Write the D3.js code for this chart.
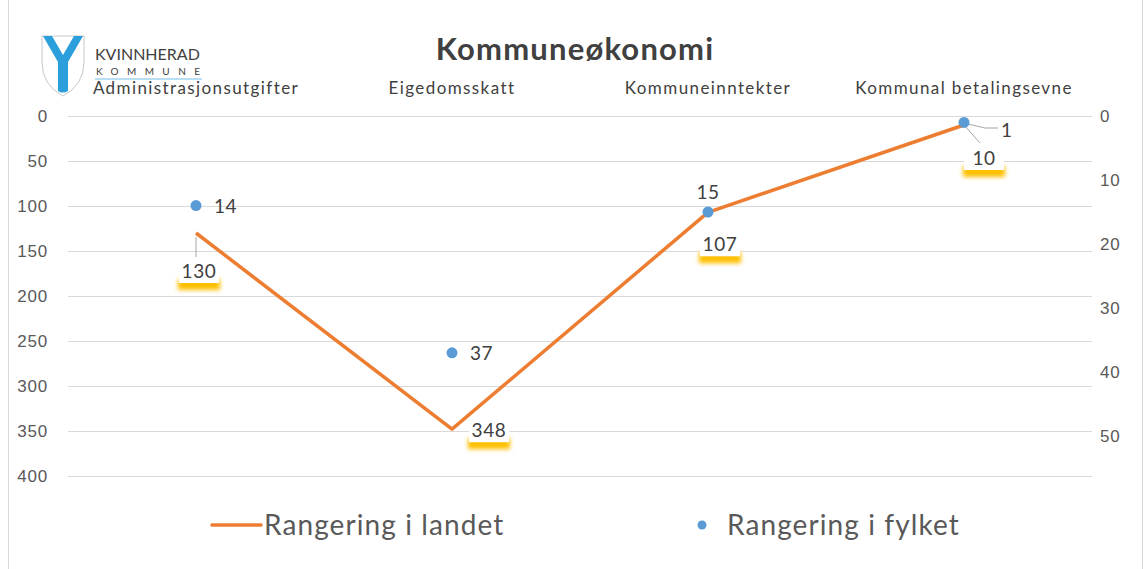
<!DOCTYPE html>
<html>
<head>
<meta charset="utf-8">
<script src="https://cdn.jsdelivr.net/npm/d3@7"></script>
<style>
  body { margin: 0; background: #fff; }
  svg { font-family: Lato, "Open Sans", sans-serif; }
</style>
</head>
<body>
<svg width="1144" height="569"></svg>
<script>
const categories = ["Administrasjonsutgifter", "Eigedomsskatt", "Kommuneinntekter", "Kommunal betalingsevne"];
const landet = [130, 348, 107, 10];
const fylket = [14, 37, 15, 1];
const leftTicks = [0, 50, 100, 150, 200, 250, 300, 350, 400];
const rightTicks = [0, 10, 20, 30, 40, 50];

const svg = d3.select("svg");
const plotTop = 116, plotBottom = 476;

// frame
svg.append("rect").attr("x", 8.5).attr("y", -1).attr("width", 1134).attr("height", 571)
  .attr("fill", "none").attr("stroke", "#d9d9d9");

const x = d3.scaleBand().domain(categories).range([68, 1092]);
const yL = d3.scaleLinear().domain([0, 400]).range([plotTop, plotBottom]);
const yR = d3.scaleLinear().domain([0, 56.25]).range([plotTop, plotBottom]);

// gridlines
svg.append("g").selectAll("line").data(leftTicks).join("line")
  .attr("x1", 68).attr("x2", 1092)
  .attr("y1", d => yL(d) + 0.5).attr("y2", d => yL(d) + 0.5)
  .attr("stroke", "#d9d9d9");

// axes
const axL = svg.append("g").attr("transform", "translate(68,0)")
  .call(d3.axisLeft(yL).tickValues(leftTicks).tickSize(0).tickPadding(20));
axL.select(".domain").remove();
axL.selectAll("text").attr("fill", "#595959").style("font-size", "17px").style("letter-spacing", "0.8px");

const axR = svg.append("g").attr("transform", "translate(1092,0)")
  .call(d3.axisRight(yR).tickValues(rightTicks).tickSize(0).tickPadding(8));
axR.select(".domain").remove();
axR.selectAll("text").attr("fill", "#595959").style("font-size", "17px").style("letter-spacing", "0.8px");

// category labels on top
svg.append("g").selectAll("text").data(categories).join("text")
  .attr("x", d => x(d) + x.bandwidth() / 2).attr("y", 94)
  .attr("text-anchor", "middle").attr("fill", "#404040")
  .style("font-size", "17px").style("letter-spacing", "1.4px").text(d => d);

// title
svg.append("text").attr("x", 575).attr("y", 60).attr("text-anchor", "middle")
  .attr("fill", "#404040").style("font-size", "31px").style("font-weight", "bold")
  .style("letter-spacing", "1.2px")
  .text("Kommuneøkonomi");

// logo
const logo = svg.append("g");
logo.append("path")
  .attr("d", "M42,36 L84,36 L84,62 Q84,85 63,96 Q42,85 42,62 Z")
  .attr("fill", "#fff").attr("stroke", "#c8c8c8").attr("stroke-width", 1);
logo.append("path")
  .attr("d", "M43,36 L52,36 L63,55 L74,36 L83,36 L68,62 L68,91 Q63,94 58,91 L58,62 Z")
  .attr("fill", "#2a9fdc");
logo.append("text").attr("x", 95).attr("y", 60).attr("fill", "#404040")
  .style("font-size", "16px").text("KVINNHERAD");
logo.append("text").attr("x", 96).attr("y", 75).attr("fill", "#404040")
  .style("font-size", "10px").style("letter-spacing", "8.4px").text("KOMMUNE");
logo.append("line").attr("x1", 95).attr("x2", 202).attr("y1", 79).attr("y2", 79)
  .attr("stroke", "#9fd3ef").attr("stroke-width", 1.5);

// glow filter for callouts
const defs = svg.append("defs");
defs.append("filter").attr("id", "blur").attr("x", "-30%").attr("y", "-50%")
  .attr("width", "160%").attr("height", "200%")
  .append("feGaussianBlur").attr("stdDeviation", 2.2);

const cx = i => x(categories[i]) + x.bandwidth() / 2;

// leader lines
const leaders = [
  [[196, 237], [196, 257]],
  [[965, 126], [980, 143]],
  [[968, 124], [985, 128], [998, 128]]
];
svg.append("g").selectAll("path").data(leaders).join("path")
  .attr("d", d => d3.line()(d)).attr("fill", "none").attr("stroke", "#a6a6a6");

// landet line
svg.append("path").datum(landet)
  .attr("d", d3.line().x((d, i) => cx(i)).y(d => yL(d)))
  .attr("fill", "none").attr("stroke", "#ED7D31").attr("stroke-width", 3.5)
  .attr("stroke-linejoin", "round");

// landet callout labels (offset of label centre from the point)
const boxOff = [[3, 38], [37, 1], [12, 32], [20, 33]];
const lab = svg.append("g").selectAll("g").data(landet).join("g")
  .attr("transform", (d, i) => `translate(${cx(i) + boxOff[i][0]},${yL(d) + boxOff[i][1]})`);
lab.append("rect").attr("x", -21).attr("y", 8).attr("width", 42).attr("height", 11)
  .attr("fill", "#FFC000").attr("filter", "url(#blur)");
lab.append("rect").attr("x", -20).attr("y", -12).attr("width", 40).attr("height", 24)
  .attr("fill", "#fff");
lab.append("text").attr("y", 7).attr("text-anchor", "middle").attr("fill", "#404040")
  .style("font-size", "19px").style("letter-spacing", "0.6px").text(d => d);

// fylket dots
svg.append("g").selectAll("circle").data(fylket).join("circle")
  .attr("cx", (d, i) => cx(i)).attr("cy", d => yR(d)).attr("r", 5.5)
  .attr("fill", "#5B9BD5");

const fyOff = [[18, 7, "start"], [18, 7, "start"], [0, -13, "middle"], [37, 15, "start"]];
svg.append("g").selectAll("text").data(fylket).join("text")
  .attr("x", (d, i) => cx(i) + fyOff[i][0]).attr("y", (d, i) => yR(d) + fyOff[i][1])
  .attr("text-anchor", (d, i) => fyOff[i][2]).attr("fill", "#404040")
  .style("font-size", "19px").style("letter-spacing", "0.6px").text(d => d);

// legend
const leg = svg.append("g");
leg.append("line").attr("x1", 212).attr("x2", 261).attr("y1", 525).attr("y2", 525)
  .attr("stroke", "#ED7D31").attr("stroke-width", 3.5).attr("stroke-linecap", "round");
leg.append("text").attr("x", 264).attr("y", 535).attr("fill", "#595959")
  .style("font-size", "28px").style("letter-spacing", "1.1px").text("Rangering i landet");
leg.append("circle").attr("cx", 702).attr("cy", 525).attr("r", 4.5).attr("fill", "#5B9BD5");
leg.append("text").attr("x", 727).attr("y", 535).attr("fill", "#595959")
  .style("font-size", "28px").style("letter-spacing", "1.1px").text("Rangering i fylket");
</script>
</body>
</html>
